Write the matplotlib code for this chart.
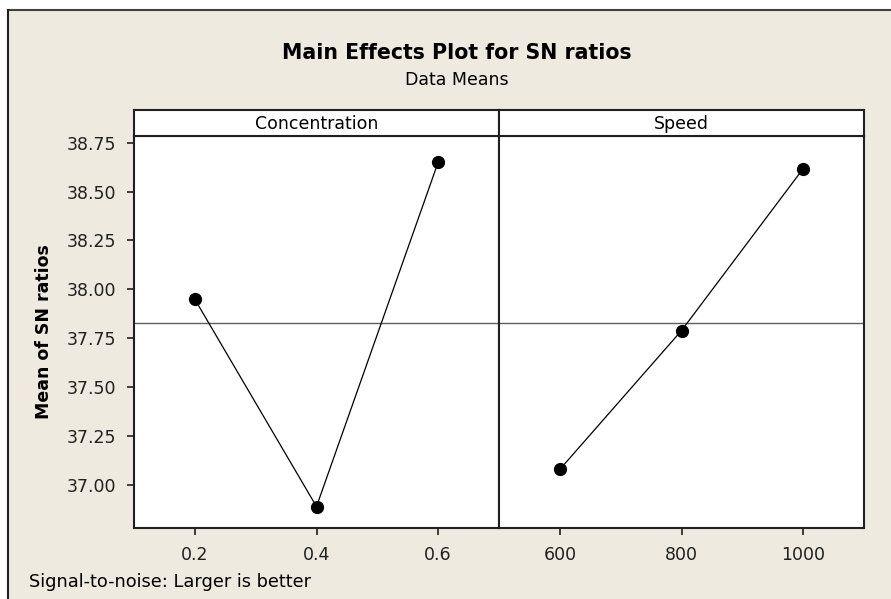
import matplotlib
matplotlib.use("Agg")
import matplotlib.pyplot as plt
from matplotlib.lines import Line2D
from matplotlib.patches import Rectangle

# Data
conc_levels = [0.2, 0.4, 0.6]
conc_means = [37.949, 36.889, 38.650]
speed_levels = [600, 800, 1000]
speed_means = [37.079, 37.789, 38.617]
grand_mean = 37.828

panel_names = ["Concentration", "Speed"]
panel_x = [conc_levels, speed_levels]
panel_y = [conc_means, speed_means]
panel_xlim = [(0.1, 0.7), (500, 1100)]
panel_xticks = [conc_levels, speed_levels]
panel_xticklabels = [["0.2", "0.4", "0.6"], ["600", "800", "1000"]]
yticks = [37.00, 37.25, 37.50, 37.75, 38.00, 38.25, 38.50, 38.75]

BG = "#EEEAE0"
plt.rcParams["font.family"] = "DejaVu Sans"

W, H = 891, 599
fig = plt.figure(figsize=(W / 100, H / 100), dpi=100)
fig.patch.set_facecolor("white")

# beige panel with dark top/left frame
fig.add_artist(Rectangle((8 / W, 0), 1, 1 - 10 / H, transform=fig.transFigure,
                         facecolor=BG, edgecolor="none", zorder=-10))
fig.add_artist(Line2D([8 / W, 1], [1 - 10 / H, 1 - 10 / H], transform=fig.transFigure,
                      color="#404040", lw=1.5))
fig.add_artist(Line2D([8 / W, 8 / W], [0, 1 - 10 / H], transform=fig.transFigure,
                      color="#202020", lw=1.5))

left, right = 134 / W, 864 / W
bottom, top = 1 - 527.5 / H, 1 - 136 / H
strip_top = 1 - 110 / H
pw = (right - left) / 2

for i in range(2):
    ax = fig.add_axes([left + i * pw, bottom, pw, top - bottom])
    ax.set_facecolor("white")
    ax.axhline(grand_mean, color="#606060", lw=1.0, zorder=1)
    ax.plot(panel_x[i], panel_y[i], color="black", lw=0.9, marker="o",
            markersize=8.5, zorder=3)
    ax.set_xlim(*panel_xlim[i])
    ax.set_ylim(36.782, 38.784)
    ax.set_xticks(panel_xticks[i])
    ax.set_xticklabels(panel_xticklabels[i])
    ax.tick_params(direction="out", length=5, width=1.2, labelsize=12.5,
                   colors="#202020", pad=8)
    for s in ax.spines.values():
        s.set_linewidth(1.5)
        s.set_color("#202020")
    if i == 0:
        ax.set_yticks(yticks)
        ax.set_yticklabels([f"{v:.2f}" for v in yticks])
        ax.set_ylabel("Mean of SN ratios", fontsize=12.5, fontweight="bold", labelpad=10)
    else:
        ax.tick_params(axis="y", left=False, labelleft=False)

    sax = fig.add_axes([left + i * pw, top, pw, strip_top - top])
    sax.set_facecolor("white")
    sax.set_xticks([])
    sax.set_yticks([])
    for s in sax.spines.values():
        s.set_linewidth(1.5)
        s.set_color("#202020")
    sax.text(0.5, 0.45, panel_names[i], ha="center", va="center",
             fontsize=12.5, transform=sax.transAxes)

fig.text(456.5 / W, 1 - 53 / H, "Main Effects Plot for SN ratios", ha="center",
         va="center", fontsize=14.8, fontweight="bold")
fig.text(456.5 / W, 1 - 80 / H, "Data Means", ha="center", va="center", fontsize=12.5)
fig.text(29 / W, 1 - 582 / H, "Signal-to-noise: Larger is better", ha="left",
         va="center", fontsize=12.8)

fig.savefig("out.png", dpi=100, facecolor=fig.get_facecolor())
